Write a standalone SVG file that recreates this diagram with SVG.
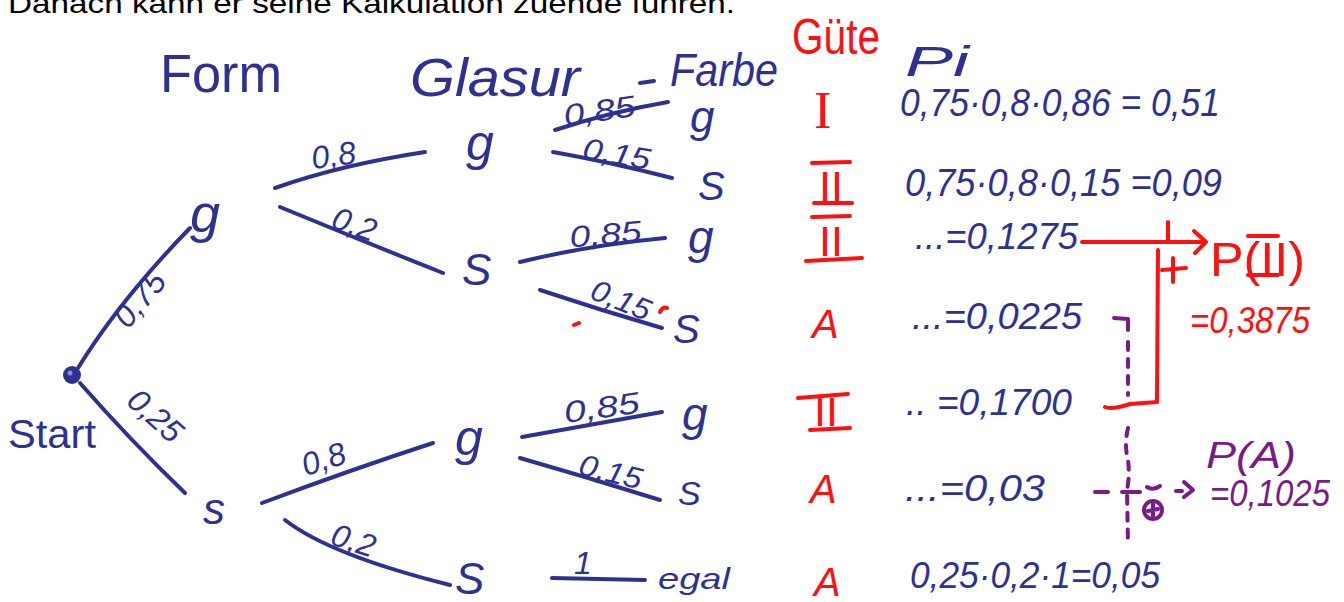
<svg xmlns="http://www.w3.org/2000/svg" width="1344" height="602" viewBox="0 0 1344 602">
<style>
.b{fill:#2e3192;font-family:"Liberation Sans",Arial,sans-serif;font-style:italic}
.r{fill:#ff1010;font-family:"Liberation Sans",Arial,sans-serif;font-style:italic}
.p{fill:#7a1a8a;font-family:"Liberation Sans",Arial,sans-serif;font-style:italic}
.u{font-style:normal}
.bl{fill:none;stroke:#2e3192;stroke-width:4;stroke-linecap:round;stroke-linejoin:round}
.rl{fill:none;stroke:#ff1010;stroke-width:4;stroke-linecap:round;stroke-linejoin:round}
.pl{fill:none;stroke:#7a1a8a;stroke-width:4;stroke-linecap:round;stroke-linejoin:round}
.pd{fill:none;stroke:#7a1a8a;stroke-width:4;stroke-linecap:round;stroke-dasharray:8 9}
</style>
<rect width="1344" height="602" fill="#ffffff"/>
<text x="8" y="13" font-family="Liberation Sans,Arial,sans-serif" font-size="28" fill="#000" textLength="727" lengthAdjust="spacingAndGlyphs">Danach kann er seine Kalkulation zuende führen.</text>

<g id="headers">
<text class="b u" x="160" y="92" font-size="54" textLength="122" lengthAdjust="spacingAndGlyphs">Form</text>
<text class="b" x="410" y="96" font-size="54" textLength="170" lengthAdjust="spacingAndGlyphs">Glasur</text>
<text class="b" x="670" y="86" font-size="46" textLength="108" lengthAdjust="spacingAndGlyphs">Farbe</text>
<text class="r u" x="792" y="54" font-size="50" textLength="88" lengthAdjust="spacingAndGlyphs">Güte</text>
<text class="b" x="905" y="76" font-size="42" textLength="64" lengthAdjust="spacingAndGlyphs">Pi</text>
</g>

<g id="start">
<circle cx="72" cy="375" r="9" fill="#2e3192"/>
<circle cx="70" cy="373" r="2.5" fill="#8a8fd0"/>
<text class="b u" x="8" y="448" font-size="40" textLength="88" lengthAdjust="spacingAndGlyphs">Start</text>
</g>

<g id="connectors">
<path class="bl" d="M78,368 Q120,300 190,228"/>
<path class="bl" d="M80,383 Q130,440 185,493"/>
<path class="bl" d="M275,188 Q340,165 425,152"/>
<path class="bl" d="M280,207 Q360,240 443,273"/>
<path class="bl" d="M555,130 Q610,112 668,102"/>
<path class="bl" d="M553,152 Q610,162 672,178"/>
<path class="bl" d="M520,262 Q590,245 665,238"/>
<path class="bl" d="M540,290 Q600,310 662,328"/>
<path class="bl" d="M262,503 Q350,470 433,443"/>
<path class="bl" d="M285,520 Q330,555 450,585"/>
<path class="bl" d="M522,437 Q590,425 662,412"/>
<path class="bl" d="M520,458 Q590,478 660,500"/>
<path class="bl" d="M552,578 L645,580"/>
<path class="bl" d="M640,83 L654,81"/>
</g>

<g id="edge-labels">
<text class="b" x="0" y="0" font-size="32" transform="translate(128,330) rotate(-50)">0,75</text>
<text class="b" x="0" y="0" font-size="32" transform="translate(125,403) rotate(42)">0,25</text>
<text class="b" x="312" y="166" font-size="32" transform="rotate(-8 335 160)">0,8</text>
<text class="b" x="330" y="234" font-size="32" transform="rotate(20 350 230)">0,2</text>
<text class="b" x="564" y="121" font-size="30" textLength="72" lengthAdjust="spacingAndGlyphs" transform="rotate(-8 600 115)">0,85</text>
<text class="b" x="582" y="164" font-size="30" textLength="68" lengthAdjust="spacingAndGlyphs" transform="rotate(10 615 158)">0,15</text>
<text class="b" x="570" y="245" font-size="30" textLength="72" lengthAdjust="spacingAndGlyphs" transform="rotate(-5 600 240)">0,85</text>
<text class="b" x="590" y="310" font-size="30" textLength="62" lengthAdjust="spacingAndGlyphs" transform="rotate(22 620 300)">0,15</text>
<text class="b" x="302" y="468" font-size="32" transform="rotate(-18 330 460)">0,8</text>
<text class="b" x="330" y="552" font-size="32" transform="rotate(18 355 545)">0,2</text>
<text class="b" x="564" y="418" font-size="30" textLength="76" lengthAdjust="spacingAndGlyphs" transform="rotate(-8 600 410)">0,85</text>
<text class="b" x="578" y="482" font-size="30" textLength="64" lengthAdjust="spacingAndGlyphs" transform="rotate(14 610 475)">0,15</text>
<text class="b" x="574" y="574" font-size="32">1</text>
</g>

<g id="n-g1"><text class="b" x="190" y="232" font-size="54">g</text></g>
<g id="n-s1"><text class="b" x="203" y="524" font-size="44">s</text></g>
<g id="n-gg"><text class="b" x="466" y="160" font-size="50">g</text></g>
<g id="n-gs"><text class="b" x="462" y="285" font-size="44">S</text></g>
<g id="n-sg"><text class="b" x="455" y="455" font-size="50">g</text></g>
<g id="n-ss"><text class="b" x="455" y="594" font-size="44">S</text></g>
<g id="n-ggg"><text class="b" x="690" y="132" font-size="44">g</text></g>
<g id="n-ggs"><text class="b" x="698" y="200" font-size="40">S</text></g>
<g id="n-gsg"><text class="b" x="688" y="253" font-size="46">g</text></g>
<g id="n-gss"><text class="b" x="673" y="343" font-size="40">S</text></g>
<g id="n-sgg"><text class="b" x="682" y="430" font-size="46">g</text></g>
<g id="n-sgs"><text class="b" x="678" y="505" font-size="34">S</text></g>
<g id="n-sse"><text class="b" x="658" y="589" font-size="30" textLength="72" lengthAdjust="spacingAndGlyphs">egal</text></g>

<g id="marks">
<path class="rl" d="M574,325 L579,323" stroke-width="3"/>
<path class="rl" d="M660,312 Q663,306 667,308" stroke-width="3"/>
</g>

<g id="guete">
<text x="814" y="128" font-size="52" fill="#ff1010" font-family="Liberation Serif,serif">I</text>
<text class="r u" x="819" y="201" font-size="42" textLength="24" lengthAdjust="spacingAndGlyphs">II</text>
<path class="rl" d="M812,163 L850,162 M814,203 L852,203"/>
<text class="r u" x="819" y="256" font-size="42" textLength="24" lengthAdjust="spacingAndGlyphs">II</text>
<path class="rl" d="M812,217 L850,216 M806,261 L862,258"/>
<text class="r" x="812" y="338" font-size="40">A</text>
<text class="r u" x="814" y="426" font-size="40" textLength="24" lengthAdjust="spacingAndGlyphs">II</text>
<path class="rl" d="M798,398 L848,394 M810,430 L850,428"/>
<text class="r" x="810" y="503" font-size="40">A</text>
<text class="r" x="814" y="596" font-size="40">A</text>
</g>

<g id="pi">
<text class="b" x="900" y="116" font-size="38" textLength="320" lengthAdjust="spacingAndGlyphs">0,75·0,8·0,86 = 0,51</text>
<text class="b" x="905" y="196" font-size="38" textLength="317" lengthAdjust="spacingAndGlyphs">0,75·0,8·0,15 =0,09</text>
<text class="b" x="915" y="249" font-size="36" textLength="163" lengthAdjust="spacingAndGlyphs">...=0,1275</text>
<text class="b" x="912" y="329" font-size="36" textLength="170" lengthAdjust="spacingAndGlyphs">...=0,0225</text>
<text class="b" x="906" y="415" font-size="36" textLength="166" lengthAdjust="spacingAndGlyphs">.. =0,1700</text>
<text class="b" x="905" y="501" font-size="36" textLength="140" lengthAdjust="spacingAndGlyphs">...=0,03</text>
<text class="b" x="910" y="588" font-size="36" textLength="250" lengthAdjust="spacingAndGlyphs">0,25·0,2·1=0,05</text>
</g>

<g id="sum-II">
<path class="rl" d="M1082,242 L1205,242 M1194,231 L1206,242 L1195,253 M1168,222 L1168,240 M1158,250 L1157,402 L1130,404 Q1112,410 1105,407"/>
<path class="rl" d="M1162,270 L1186,268 M1173,258 L1173,282"/>
<text class="r u" x="1210" y="276" font-size="48" textLength="95" lengthAdjust="spacingAndGlyphs">P(II)</text>
<path class="rl" d="M1248,236 L1278,236 M1248,275 L1278,275"/>
<text class="r" x="1190" y="333" font-size="36" textLength="120" lengthAdjust="spacingAndGlyphs">=0,3875</text>
</g>

<g id="sum-A">
<path class="pl" d="M1114,318 L1128,319 L1128,330"/>
<path class="pd" d="M1128,342 L1128,395"/>
<path class="pd" d="M1128,428 Q1124,445 1128,460 Q1130,475 1127,490 L1128,545"/>
<path class="pl" d="M1095,492 L1108,492 M1122,492 L1140,492"/>
<path class="pl" d="M1147,487 Q1153,491 1160,486" stroke-width="3"/>
<circle cx="1153" cy="510" r="9" class="pl" stroke-width="3"/>
<path class="pl" d="M1148,511 L1158,509 M1153,504 L1153,516" stroke-width="3"/>
<path class="pl" d="M1176,491 L1182,491 M1184,482 L1193,490 L1184,497"/>
<text class="p" x="1206" y="468" font-size="36" textLength="90" lengthAdjust="spacingAndGlyphs">P(A)</text>
<text class="p" x="1210" y="506" font-size="36" textLength="120" lengthAdjust="spacingAndGlyphs">=0,1025</text>
</g>
</svg>
